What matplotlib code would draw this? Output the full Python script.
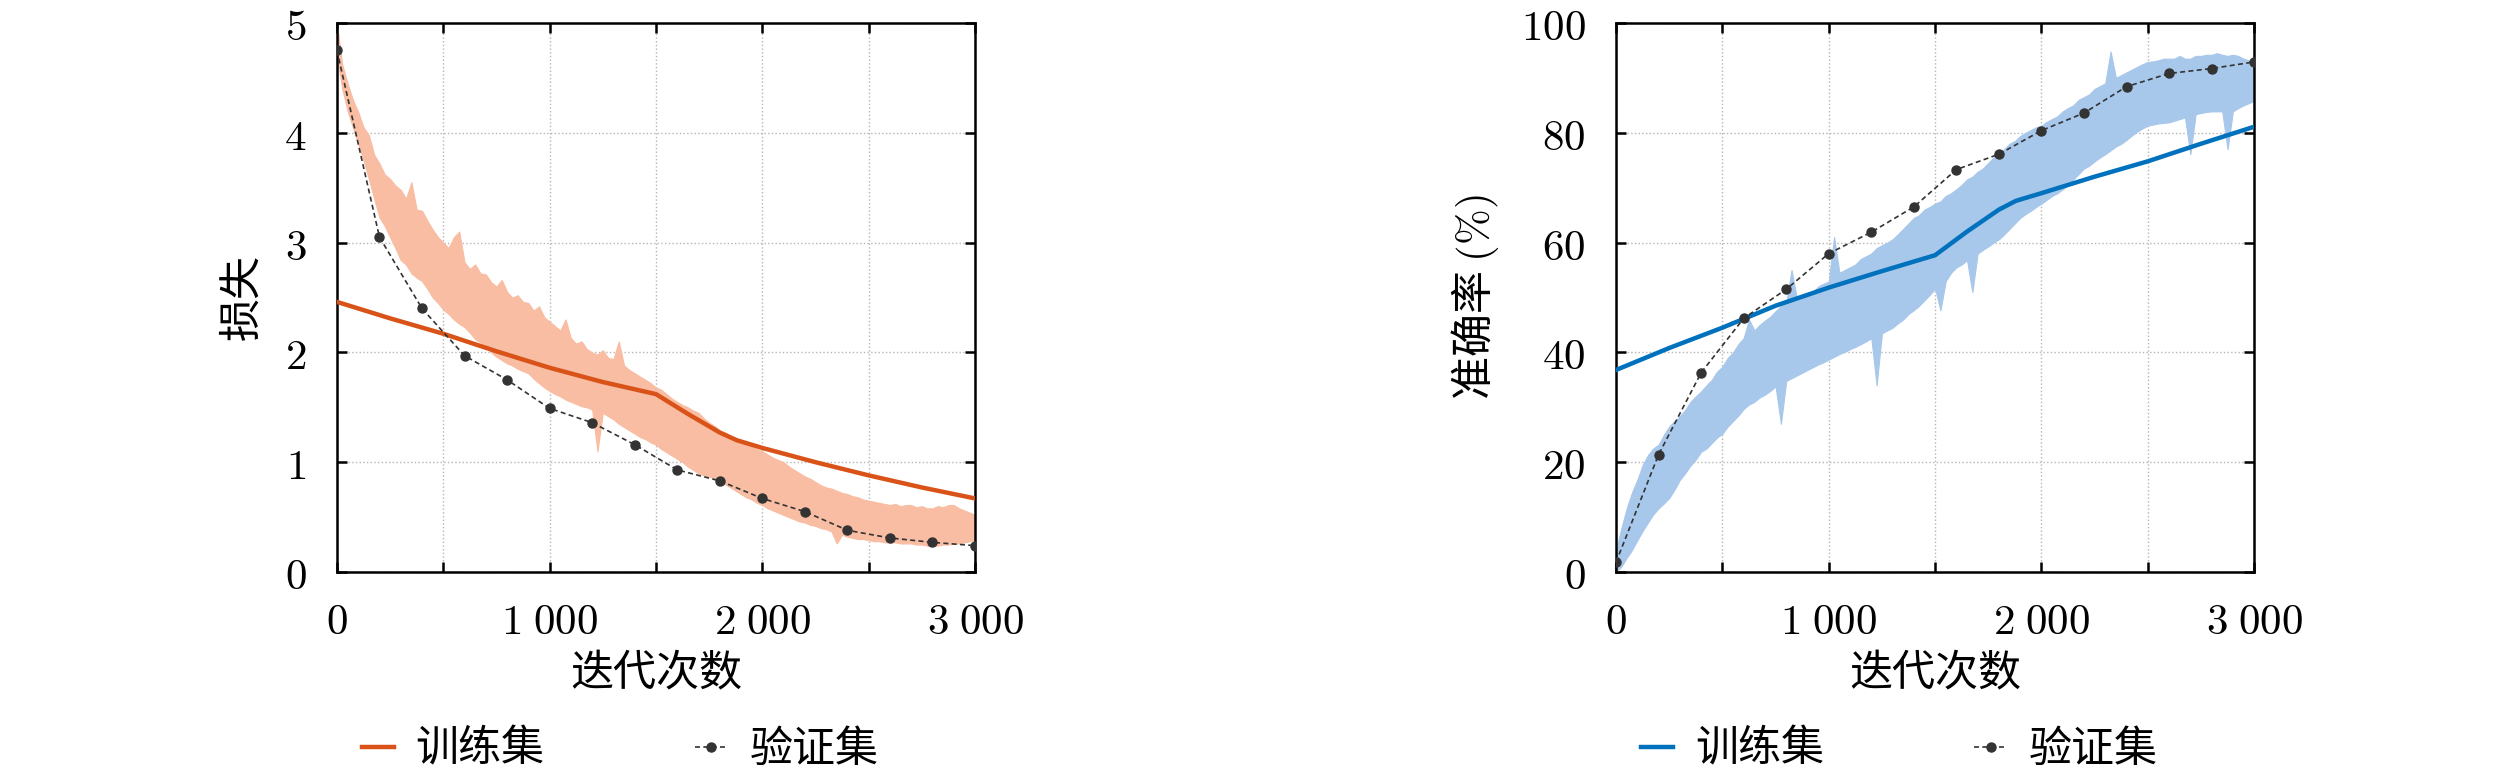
import matplotlib
matplotlib.use("Agg")
import matplotlib.pyplot as plt
import numpy as np

plt.rcParams['font.family'] = ['Noto Sans CJK SC', 'DejaVu Sans']
plt.rcParams['mathtext.fontset'] = 'cm'

# per-iteration (noisy) curves, read as lower / upper envelope every 25 iterations
band_iters = np.arange(0, 3001, 25)

loss_upper = [
    5.00, 4.62, 4.45, 4.30, 4.19, 4.05, 3.98, 3.80,
    3.72, 3.62, 3.58, 3.52, 3.48, 3.40, 3.55, 3.30,
    3.29, 3.20, 3.12, 3.05, 3.00, 2.95, 3.05, 3.10,
    2.82, 2.76, 2.80, 2.72, 2.71, 2.64, 2.60, 2.66,
    2.55, 2.50, 2.52, 2.46, 2.45, 2.38, 2.42, 2.32,
    2.28, 2.24, 2.20, 2.30, 2.13, 2.08, 2.10, 2.03,
    2.00, 1.98, 2.02, 1.95, 1.94, 2.10, 1.88, 1.84,
    1.81, 1.78, 1.75, 1.72, 1.68, 1.66, 1.62, 1.58,
    1.55, 1.52, 1.50, 1.47, 1.45, 1.40, 1.36, 1.33,
    1.29, 1.27, 1.24, 1.22, 1.19, 1.17, 1.14, 1.12,
    1.10, 1.07, 1.04, 1.02, 1.00, 0.96, 0.93, 0.90,
    0.87, 0.85, 0.82, 0.79, 0.77, 0.76, 0.74, 0.72,
    0.71, 0.69, 0.68, 0.66, 0.65, 0.64, 0.63, 0.62,
    0.61, 0.62, 0.60, 0.61, 0.61, 0.59, 0.60, 0.58,
    0.58, 0.60, 0.59, 0.61, 0.61, 0.58, 0.56, 0.54,
    0.52,
]
loss_lower = [
    4.70, 4.40, 4.20, 4.05, 3.90, 3.75, 3.58, 3.40,
    3.23, 3.15, 3.05, 2.95, 2.84, 2.80, 2.72, 2.68,
    2.65, 2.58, 2.50, 2.45, 2.39, 2.35, 2.30, 2.26,
    2.23, 2.18, 2.12, 2.09, 2.06, 2.00, 1.96, 1.93,
    1.90, 1.88, 1.85, 1.83, 1.81, 1.76, 1.72, 1.68,
    1.65, 1.62, 1.60, 1.57, 1.55, 1.53, 1.51, 1.50,
    1.48, 1.10, 1.45, 1.42, 1.39, 1.35, 1.32, 1.29,
    1.26, 1.23, 1.21, 1.18, 1.16, 1.12, 1.09, 1.06,
    1.03, 1.00, 0.96, 0.93, 0.90, 0.88, 0.87, 0.85,
    0.84, 0.80, 0.77, 0.74, 0.71, 0.68, 0.66, 0.63,
    0.61, 0.58, 0.56, 0.54, 0.52, 0.50, 0.48, 0.46,
    0.45, 0.43, 0.42, 0.40, 0.39, 0.37, 0.26, 0.34,
    0.32, 0.31, 0.30, 0.30, 0.29, 0.28, 0.28, 0.27,
    0.27, 0.27, 0.26, 0.26, 0.26, 0.25, 0.25, 0.24,
    0.24, 0.24, 0.25, 0.25, 0.26, 0.26, 0.27, 0.28,
    0.29,
]

acc_upper = [
    4.0, 8.0, 11.6, 14.5, 16.8, 19.5, 21.3, 22.5,
    23.2, 25.0, 26.5, 27.5, 28.4, 29.5, 31.0, 32.0,
    32.9, 34.0, 35.0, 36.5, 37.4, 39.0, 40.0, 41.5,
    42.6, 46.0, 44.0, 45.0, 45.8, 46.5, 47.5, 48.5,
    49.0, 55.0, 49.8, 50.0, 50.3, 51.0, 52.0, 52.5,
    52.9, 61.0, 54.5, 55.0, 55.5, 56.0, 57.0, 57.5,
    58.0, 59.0, 59.5, 60.0, 60.6, 61.5, 62.5, 63.5,
    64.5, 65.0, 66.0, 66.5, 67.1, 67.5, 68.5, 69.0,
    69.7, 70.5, 71.5, 72.0, 72.9, 73.5, 74.5, 75.5,
    76.1, 77.0, 78.0, 78.5, 79.4, 80.0, 80.5, 81.0,
    81.3, 82.0, 82.5, 83.0, 83.9, 84.5, 85.0, 86.0,
    86.5, 87.0, 88.0, 88.5, 89.0, 94.8, 90.0, 90.5,
    91.0, 91.5, 92.0, 92.5, 92.9, 93.0, 93.2, 93.5,
    93.5, 93.5, 94.0, 93.5, 93.5, 94.0, 94.0, 94.2,
    94.2, 94.5, 94.2, 94.0, 94.2, 94.0, 93.5, 93.2,
    92.9,
]
acc_lower = [
    0.0, 1.0, 2.6, 4.0, 5.8, 7.5, 9.0, 10.5,
    11.6, 12.5, 13.5, 15.0, 16.8, 18.0, 19.4, 20.5,
    21.9, 22.5, 23.5, 24.5, 25.2, 26.5, 27.5, 28.5,
    29.7, 30.5, 31.0, 31.8, 32.3, 33.0, 33.8, 27.0,
    34.8, 35.3, 35.8, 36.3, 36.8, 37.3, 37.8, 38.2,
    38.7, 39.2, 39.7, 40.1, 40.6, 41.0, 41.5, 42.0,
    42.6, 34.0, 43.5, 44.0, 44.5, 45.3, 46.0, 47.0,
    47.7, 48.5, 49.5, 50.5, 51.6, 47.7, 53.0, 54.5,
    55.5, 56.0, 56.8, 51.0, 58.0, 58.7, 59.3, 60.0,
    60.6, 61.5, 62.5, 63.5, 64.5, 65.2, 65.8, 66.5,
    67.1, 67.8, 68.5, 69.0, 69.7, 70.5, 71.5, 72.5,
    73.5, 74.0, 74.8, 75.5, 76.1, 76.8, 77.5, 78.0,
    78.7, 79.5, 80.2, 80.8, 81.3, 81.5, 81.7, 81.8,
    81.9, 82.2, 82.5, 82.8, 76.1, 83.4, 83.6, 83.8,
    83.9, 83.9, 83.9, 77.0, 83.9, 84.5, 85.0, 85.4,
    85.8,
]

# smoothed training curves
train_iters = [0, 250, 500, 750, 1000, 1250, 1500, 1650, 1800, 1880, 2000, 2250, 2500, 2750, 3000]
loss_train = [2.46, 2.31, 2.17, 2.01, 1.86, 1.73, 1.62, 1.44, 1.27, 1.20, 1.13, 1.00, 0.88, 0.77, 0.67]
acc_train = [36.8, 40.8, 44.5, 48.5, 51.8, 54.8, 57.7, 62.0, 66.0, 67.6, 69.0, 72.0, 74.8, 78.0, 81.1]

# validation every 200 iterations
val_iters = np.arange(0, 3001, 200)
loss_val = [4.75, 3.05, 2.40, 1.97, 1.75, 1.49, 1.36, 1.16, 0.93, 0.83, 0.67, 0.55, 0.38, 0.31, 0.27, 0.24]
acc_val = [1.8, 21.4, 36.3, 46.2, 51.5, 58.0, 61.9, 66.5, 73.3, 76.1, 80.4, 83.6, 88.4, 90.8, 91.7, 92.9]

xticks = [0, 500, 1000, 1500, 2000, 2500, 3000]
xticklabels = [r'$0$', '', r'$1\;000$', '', r'$2\;000$', '', r'$3\;000$']

FS = 31
fig = plt.figure(figsize=(25.2, 7.81), dpi=100)
ax1 = fig.add_axes([0.1337, 0.2676, 0.2532, 0.703])
ax2 = fig.add_axes([0.6413, 0.2676, 0.2532, 0.703])

def style(ax, yticks, ylim):
    ax.set_xlim(0, 3000)
    ax.set_ylim(*ylim)
    ax.set_xticks(xticks)
    ax.set_xticklabels(xticklabels)
    ax.set_yticks(yticks)
    ax.set_yticklabels([r'$%d$' % v for v in yticks])
    ax.tick_params(direction='in', length=7, width=1.8, top=True, right=True,
                   labelsize=FS, pad=20)
    ax.tick_params(axis='y', pad=22)
    for s in ax.spines.values():
        s.set_linewidth(1.8)
    ax.grid(True, linestyle=':', color='#b5b5b5', linewidth=1.0)
    ax.set_axisbelow(True)
    ax.set_xlabel('迭代次数', fontsize=FS, labelpad=6)

def draw(ax, lower, upper, train, val, c_light, c_main):
    ax.fill_between(band_iters, lower, upper, facecolor=c_light, edgecolor=c_light,
                    lw=0.8, zorder=2)
    l1, = ax.plot(train_iters, train, color=c_main, lw=3.2, zorder=3, label='训练集')
    l2, = ax.plot(val_iters, val, color='#333333', lw=1.2, ls=(0, (3, 2)), marker='o',
                  markersize=6.5, zorder=4, label='验证集')
    ax.legend(handles=[l1, l2], loc='center left', bbox_to_anchor=(0.039, -0.324),
              ncol=2, frameon=False, fontsize=FS, borderpad=0, borderaxespad=0,
              handlelength=0.75, handletextpad=0.5, columnspacing=3.5)

draw(ax1, loss_lower, loss_upper, loss_train, loss_val, '#f8bda2', '#d95319')
style(ax1, [0, 1, 2, 3, 4, 5], (0, 5))
ax1.set_ylabel('损失', fontsize=FS, labelpad=14)

draw(ax2, acc_lower, acc_upper, acc_train, acc_val, '#a7c7eb', '#0072bd')
style(ax2, [0, 20, 40, 60, 80, 100], (0, 100))
ax2.set_ylabel(r'准确率 $(\%)$', fontsize=FS, labelpad=14)

fig.savefig('out.png', dpi=100)
